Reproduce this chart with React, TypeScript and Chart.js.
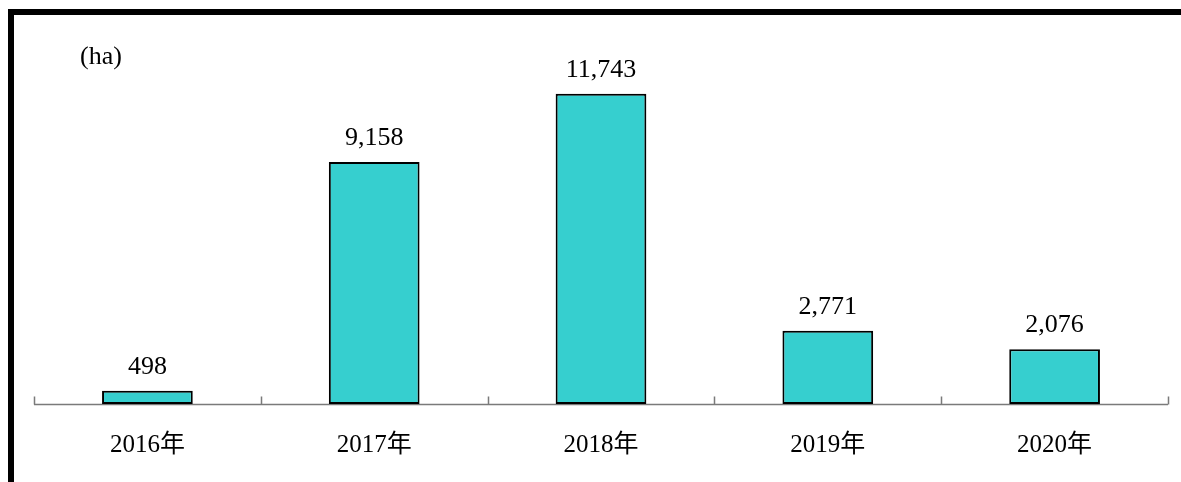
import React, { useEffect, useRef } from "react";
import { Chart, registerables } from "chart.js";

Chart.register(...registerables);

const categories = ["2016年", "2017年", "2018年", "2019年", "2020年"];
const areaHa = [498, 9158, 11743, 2771, 2076];
const unitLabel = "(ha)";
const yMin = 0;
const yMax = 14000;

const SERIF = "'Liberation Serif', 'Noto Sans CJK JP', serif";

export default function App() {
  const ref = useRef<HTMLCanvasElement>(null);

  useEffect(() => {
    const canvas = ref.current;
    if (!canvas) return;

    const decorPlugin = {
      id: "decor",
      beforeDraw(chart: any) {
        const ctx = chart.ctx;
        ctx.save();
        ctx.fillStyle = "#ffffff";
        ctx.fillRect(0, 0, chart.width, chart.height);
        ctx.fillStyle = "#000000";
        ctx.fillRect(8, 9, chart.width - 8, 6);
        ctx.fillRect(8, 9, 6, chart.height - 9);
        ctx.font = `26px ${SERIF}`;
        ctx.textAlign = "left";
        ctx.textBaseline = "alphabetic";
        ctx.fillText(unitLabel, 80, 64);
        ctx.restore();
      },
      beforeDatasetsDraw(chart: any) {
        const ctx = chart.ctx;
        const xs = chart.scales.x;
        const ys = chart.scales.y;
        const base = Math.round(ys.getPixelForValue(0)) + 0.5;
        const half = (xs.getPixelForValue(1) - xs.getPixelForValue(0)) / 2;
        ctx.save();
        ctx.strokeStyle = "#7a7a7a";
        ctx.lineWidth = 1.5;
        ctx.beginPath();
        ctx.moveTo(xs.left, base);
        ctx.lineTo(xs.right, base);
        for (let i = 0; i <= categories.length; i++) {
          const px =
            i < categories.length
              ? xs.getPixelForValue(i) - half
              : xs.getPixelForValue(categories.length - 1) + half;
          const p = Math.round(px) + 0.5;
          ctx.moveTo(p, base);
          ctx.lineTo(p, base - 8);
        }
        ctx.stroke();
        ctx.restore();
      },
      afterDatasetsDraw(chart: any) {
        const ctx = chart.ctx;
        const meta = chart.getDatasetMeta(0);
        ctx.save();
        ctx.fillStyle = "#000000";
        ctx.font = `26px ${SERIF}`;
        ctx.textAlign = "center";
        ctx.textBaseline = "alphabetic";
        meta.data.forEach((el: any, i: number) => {
          ctx.fillText(areaHa[i].toLocaleString("en-US"), el.x, el.y - 17);
        });
        ctx.restore();
      },
    };

    const chart = new Chart(canvas, {
      type: "bar",
      data: {
        labels: categories,
        datasets: [
          {
            data: areaHa,
            backgroundColor: "#36cfcf",
            borderColor: "#000000",
            borderWidth: 2,
            borderSkipped: false,
            categoryPercentage: 1,
            barPercentage: 0.4,
          },
        ],
      },
      options: {
        animation: false,
        responsive: false,
        layout: { padding: { left: 34, right: 13, top: 34, bottom: -4 } },
        plugins: {
          legend: { display: false },
          tooltip: { enabled: false },
        },
        scales: {
          x: {
            grid: { display: false, drawTicks: false },
            border: { display: false },
            ticks: {
              padding: 26,
              color: "#000000",
              font: { family: SERIF, size: 25 },
            },
          },
          y: {
            display: false,
            min: yMin,
            max: yMax,
          },
        },
      },
      plugins: [decorPlugin],
    });

    return () => chart.destroy();
  }, []);

  return (
    <div
      style={{
        position: "fixed",
        left: 0,
        top: 0,
        width: 1181,
        height: 482,
        background: "#ffffff",
      }}
    >
      <canvas ref={ref} width={1181} height={482} />
    </div>
  );
}
